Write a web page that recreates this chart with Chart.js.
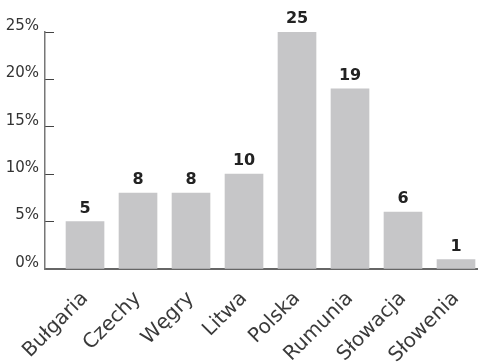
<!DOCTYPE html>
<html>
<head>
<meta charset="utf-8">
<script src="https://cdn.jsdelivr.net/npm/chart.js@4"></script>
<style>
  html, body { margin: 0; padding: 0; background: #fff; }
  #wrap { width: 478px; height: 363px; }
</style>
</head>
<body>
<div id="wrap"><canvas id="chart"></canvas></div>
<script>
const countries = ['Bułgaria', 'Czechy', 'Węgry', 'Litwa', 'Polska', 'Rumunia', 'Słowacja', 'Słowenia'];
const shares = [5, 8, 8, 10, 25, 19, 6, 1];
const yTicks = [0, 5, 10, 15, 20, 25];

// value labels over each bar
const barValues = {
  id: 'barValues',
  afterDatasetsDraw(chart) {
    const ctx = chart.ctx;
    const meta = chart.getDatasetMeta(0);
    ctx.save();
    ctx.font = 'bold 16px "DejaVu Sans"';
    ctx.fillStyle = '#222';
    ctx.textAlign = 'center';
    ctx.textBaseline = 'bottom';
    meta.data.forEach((bar, i) => {
      ctx.fillText(String(shares[i]), bar.x, bar.y - 5);
    });
    ctx.restore();
  },
};

new Chart(document.getElementById('chart'), {
  type: 'bar',
  data: {
    datasets: [{
      data: shares.map((v, i) => ({ x: i, y: v })),
      backgroundColor: '#c6c6c8',
      borderWidth: 0,
      barThickness: 38,
    }],
  },
  options: {
    responsive: true,
    maintainAspectRatio: false,
    animation: false,
    layout: { padding: { top: 32, right: 0, bottom: 0, left: 0 } },
    plugins: {
      legend: { display: false },
      tooltip: { enabled: false },
    },
    scales: {
      x: {
        type: 'linear',
        offset: false,
        min: -0.755,
        max: 7.415,
        afterBuildTicks: (scale) => {
          scale.ticks = countries.map((_, i) => ({ value: i }));
        },
        afterFit: (scale) => {
          scale.height = 94;
          scale.paddingLeft = 0;
          scale.paddingRight = 0;
        },
        grid: { display: false },
        border: { color: '#666', width: 2 },
        ticks: {
          minRotation: 45,
          maxRotation: 45,
          padding: 10,
          color: '#3a3a3a',
          font: { family: 'DejaVu Sans', size: 20 },
          callback: (v) => countries[v],
        },
      },
      y: {
        min: 0,
        max: 25,
        afterBuildTicks: (scale) => {
          scale.ticks = yTicks.map((v) => ({ value: v }));
        },
        afterFit: (scale) => { scale.width = 45; },
        grid: {
          drawOnChartArea: false,
          drawTicks: true,
          tickLength: -9,
          color: '#444',
          lineWidth: 1,
        },
        border: { color: '#777', width: 1.5 },
        ticks: {
          padding: 15,
          labelOffset: -6,
          color: '#333',
          font: { family: 'DejaVu Sans', size: 15 },
          callback: (v) => v + '%',
        },
      },
    },
  },
  plugins: [barValues],
});
</script>
</body>
</html>
